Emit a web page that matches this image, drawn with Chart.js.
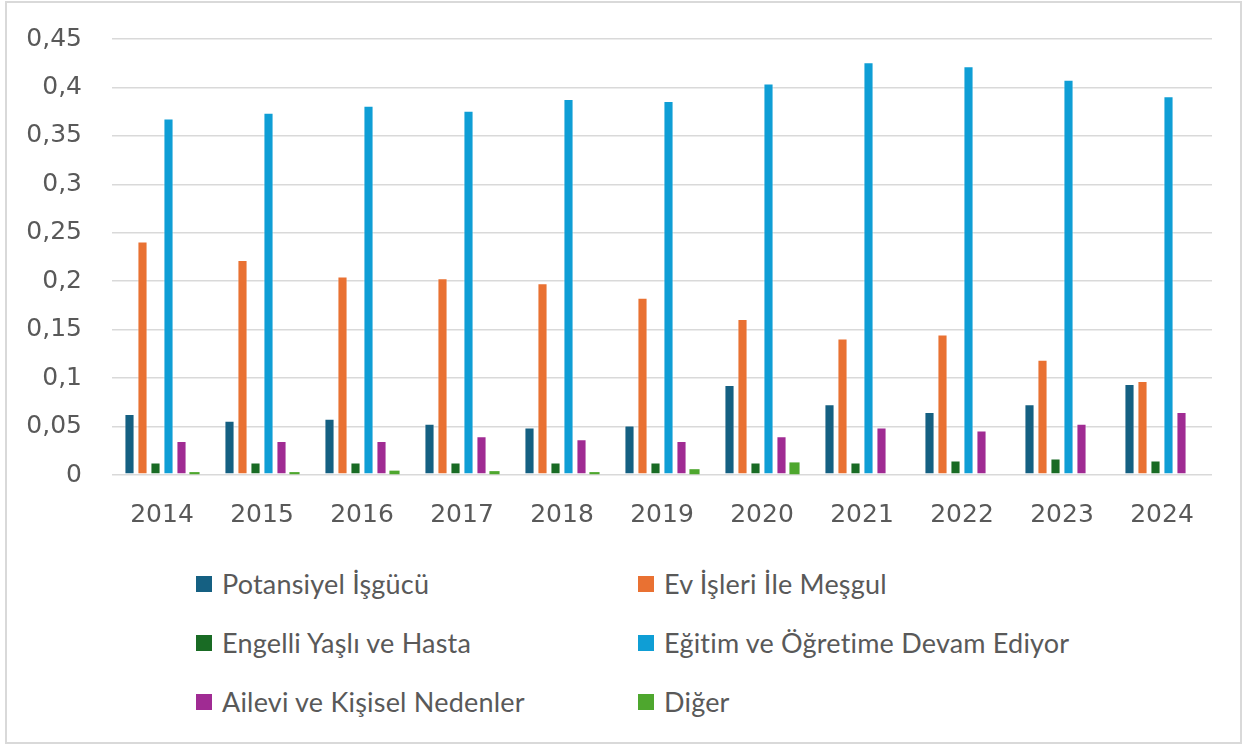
<!DOCTYPE html>
<html>
<head>
<meta charset="utf-8">
<script src="https://cdn.jsdelivr.net/npm/chart.js@4/dist/chart.umd.min.js"></script>
<style>
  body { margin: 0; background: #fff; }
  #frame { position: absolute; left: 5px; top: 1px; width: 1233px; height: 739px; border: 2px solid #d9d9d9; }
  #wrap { position: absolute; left: 0; top: -6px; width: 1247px; height: 556px; }
  #legend { position: absolute; left: 196px; top: 554px; display: grid; grid-template-columns: 442px 442px; }
  .item { height: 59px; display: flex; align-items: center; font-family: Lato, "Open Sans", sans-serif; font-size: 27px; letter-spacing: 0.2px; color: #595959; white-space: nowrap; }
  .box { width: 16px; height: 16px; margin-right: 10px; flex: none; }
</style>
</head>
<body>
<div id="frame"></div>
<div id="wrap"><canvas id="grafik" width="1247" height="556"></canvas></div>
<div id="legend"></div>
<script>
const yillar = ["2014", "2015", "2016", "2017", "2018", "2019", "2020", "2021", "2022", "2023", "2024"];
const potansiyel = [0.063, 0.056, 0.058, 0.053, 0.049, 0.051, 0.093, 0.073, 0.065, 0.073, 0.094];
const evIsleri = [0.241, 0.222, 0.205, 0.203, 0.198, 0.183, 0.161, 0.141, 0.145, 0.119, 0.097];
const engelli = [0.013, 0.013, 0.013, 0.013, 0.013, 0.013, 0.013, 0.013, 0.015, 0.017, 0.015];
const egitim = [0.368, 0.374, 0.381, 0.376, 0.388, 0.386, 0.404, 0.426, 0.422, 0.408, 0.391];
const ailevi = [0.035, 0.035, 0.035, 0.040, 0.037, 0.035, 0.040, 0.049, 0.046, 0.053, 0.065];
const diger = [0.003, 0.003, 0.0045, 0.004, 0.003, 0.006, 0.013, 0, 0, 0, 0];
const yTikler = [0, 0.05, 0.1, 0.15, 0.2, 0.25, 0.3, 0.35, 0.4, 0.45];

const seriler = [
  { label: "Potansiyel İşgücü", data: potansiyel, backgroundColor: "#156082" },
  { label: "Ev İşleri İle Meşgul", data: evIsleri, backgroundColor: "#E97132" },
  { label: "Engelli Yaşlı ve Hasta", data: engelli, backgroundColor: "#196B24" },
  { label: "Eğitim ve Öğretime Devam Ediyor", data: egitim, backgroundColor: "#0F9ED5" },
  { label: "Ailevi ve Kişisel Nedenler", data: ailevi, backgroundColor: "#A02B93" },
  { label: "Diğer", data: diger, backgroundColor: "#4EA72E" }
];
// ince beyaz kenar, Diğer cok kisa oldugu icin kenarsiz
seriler.forEach(s => {
  s.borderColor = "rgba(255,255,255,0.5)";
  s.borderWidth = s.label == "Diğer" ? 0 : 1;
  s.borderSkipped = false;
});

const yazi = { family: "'DejaVu Sans', sans-serif", size: 25 };

let grafik = new Chart(document.getElementById('grafik').getContext('2d'), {
  type: 'bar',
  data: { labels: yillar, datasets: seriler },
  options: {
    responsive: false,
    animation: false,
    devicePixelRatio: 1,
    layout: { padding: { left: 0, right: 35, top: 20, bottom: 0 } },
    plugins: { legend: { display: false }, tooltip: { enabled: false } },
    datasets: { bar: { categoryPercentage: 0.78, barPercentage: 0.78 } },
    scales: {
      x: {
        grid: { display: false, drawTicks: false },
        border: { display: false },
        ticks: { color: "#595959", font: yazi, padding: 25 },
        afterFit: s => { s.height = 75; }
      },
      y: {
        min: 0, max: 0.45,
        afterBuildTicks: s => { s.ticks = yTikler.map(v => ({ value: v })); },
        grid: { color: "#d9d9d9", lineWidth: 1.5, drawTicks: false },
        border: { display: false },
        ticks: {
          color: "#595959", font: yazi, padding: 30,
          callback: v => String(Math.round(v * 100) / 100).replace('.', ',')
        },
        afterFit: s => { s.width = 112; }
      }
    }
  }
});

const legend = document.getElementById('legend');
grafik.data.datasets.forEach(d => {
  const el = document.createElement('div');
  el.className = 'item';
  el.innerHTML = '<span class="box" style="background:' + d.backgroundColor + '"></span>' + d.label;
  legend.appendChild(el);
});
</script>
</body>
</html>
